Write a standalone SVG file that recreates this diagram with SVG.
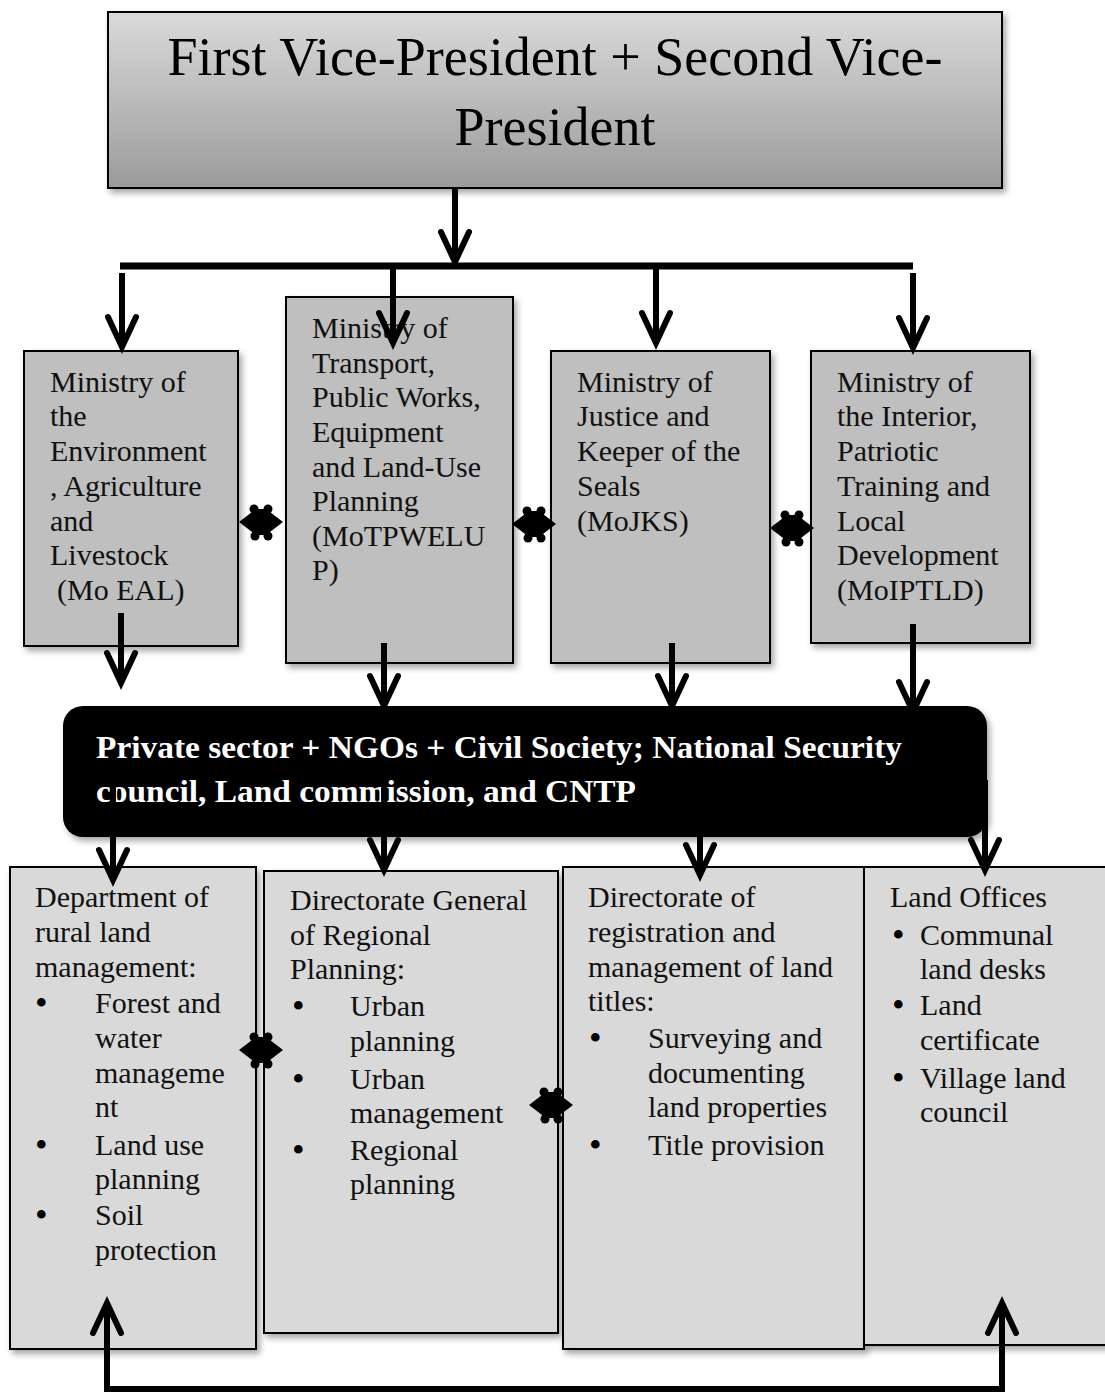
<svg xmlns="http://www.w3.org/2000/svg" width="1105" height="1392" viewBox="0 0 1105 1392">
<defs>
  <linearGradient id="topg" x1="0" y1="0" x2="0" y2="1">
    <stop offset="0" stop-color="#dadada"/>
    <stop offset="1" stop-color="#9b9b9b"/>
  </linearGradient>
  <filter id="sh" x="-10%" y="-10%" width="130%" height="130%">
    <feDropShadow dx="3" dy="4" stdDeviation="3" flood-color="#000" flood-opacity="0.35"/>
  </filter>
  <g id="dbl">
    <polygon points="-22,0 -9,-10 9,-10 22,0 9,10 -9,10" fill="#000"/>
    <rect x="-9" y="-13" width="18" height="26" fill="#000"/>
    <circle cx="-7" cy="-13" r="4.5" fill="#000"/>
    <circle cx="7" cy="-13" r="4.5" fill="#000"/>
    <circle cx="-6" cy="14" r="4.5" fill="#000"/>
    <circle cx="7" cy="14" r="4.5" fill="#000"/>
  </g>
</defs>
<style>
  .t { font-family: "Liberation Serif", "Times New Roman", serif; font-size: 30px; fill: #111; }
  .b { font-family: "Liberation Serif", "Times New Roman", serif; font-size: 36px; fill: #000; }
  .min { fill: #bfbfbf; stroke: #000; stroke-width: 2; }
  .dep { fill: #d9d9d9; stroke: #000; stroke-width: 2; }
  .ln { stroke: #000; stroke-width: 6; fill: none; }
  .hd { stroke: #000; stroke-width: 6; fill: none; stroke-linecap: round; stroke-linejoin: miter; }
</style>
<rect width="1105" height="1392" fill="#fff"/>

<g id="top">
  <rect x="108" y="12" width="894" height="176" fill="url(#topg)" stroke="#000" stroke-width="2" filter="url(#sh)"/>
  <text x="555" y="75" text-anchor="middle" style="font-family:'Liberation Serif','Times New Roman',serif;font-size:54px;fill:#000">First Vice-President + Second Vice-</text>
  <text x="555" y="145" text-anchor="middle" style="font-family:'Liberation Serif','Times New Roman',serif;font-size:54px;fill:#000">President</text>
</g>

<g id="moeal">
  <rect class="min" x="24" y="351" width="214" height="295" filter="url(#sh)"/>
  <text class="t" x="50" y="392">Ministry of</text>
  <text class="t" x="50" y="426">the</text>
  <text class="t" x="50" y="461">Environment</text>
  <text class="t" x="50" y="496">, Agriculture</text>
  <text class="t" x="50" y="531">and</text>
  <text class="t" x="50" y="565">Livestock</text>
  <text class="t" x="57" y="600">(Mo EAL)</text>
</g>

<g id="motpwelup">
  <rect class="min" x="286" y="297" width="227" height="366" filter="url(#sh)"/>
  <text class="t" x="312" y="338">Ministry of</text>
  <text class="t" x="312" y="373">Transport,</text>
  <text class="t" x="312" y="407">Public Works,</text>
  <text class="t" x="312" y="442">Equipment</text>
  <text class="t" x="312" y="477">and Land-Use</text>
  <text class="t" x="312" y="511">Planning</text>
  <text class="t" x="312" y="546">(MoTPWELU</text>
  <text class="t" x="312" y="580">P)</text>
</g>

<g id="mojks">
  <rect class="min" x="551" y="351" width="219" height="312" filter="url(#sh)"/>
  <text class="t" x="577" y="392">Ministry of</text>
  <text class="t" x="577" y="426">Justice and</text>
  <text class="t" x="577" y="461">Keeper of the</text>
  <text class="t" x="577" y="496">Seals</text>
  <text class="t" x="577" y="531">(MoJKS)</text>
</g>

<g id="moiptld">
  <rect class="min" x="811" y="351" width="219" height="292" filter="url(#sh)"/>
  <text class="t" x="837" y="392">Ministry of</text>
  <text class="t" x="837" y="426">the Interior,</text>
  <text class="t" x="837" y="461">Patriotic</text>
  <text class="t" x="837" y="496">Training and</text>
  <text class="t" x="837" y="531">Local</text>
  <text class="t" x="837" y="565">Development</text>
  <text class="t" x="837" y="600">(MoIPTLD)</text>
</g>

<g id="stakeholders">
  <rect x="63" y="706" width="924" height="131" rx="20" ry="20" fill="#000" filter="url(#sh)"/>
  <text x="96" y="758" textLength="806" lengthAdjust="spacingAndGlyphs" style="font-family:'Liberation Serif','Times New Roman',serif;font-size:32px;font-weight:bold;fill:#fff">Private sector + NGOs + Civil Society; National Security</text>
  <text x="96" y="802" textLength="540" lengthAdjust="spacingAndGlyphs" style="font-family:'Liberation Serif','Times New Roman',serif;font-size:32px;font-weight:bold;fill:#fff">council, Land commission, and CNTP</text>
</g>

<g id="dept-rural">
  <rect class="dep" x="10" y="867" width="246" height="482" filter="url(#sh)"/>
  <text class="t" x="35" y="907">Department of</text>
  <text class="t" x="35" y="942">rural land</text>
  <text class="t" x="35" y="977">management:</text>
  <text class="b" x="35" y="1015">•</text>
  <text class="t" x="95" y="1013">Forest and</text>
  <text class="t" x="95" y="1048">water</text>
  <text class="t" x="95" y="1083">manageme</text>
  <text class="t" x="95" y="1117">nt</text>
  <text class="b" x="35" y="1157">•</text>
  <text class="t" x="95" y="1155">Land use</text>
  <text class="t" x="95" y="1189">planning</text>
  <text class="b" x="35" y="1227">•</text>
  <text class="t" x="95" y="1225">Soil</text>
  <text class="t" x="95" y="1260">protection</text>
</g>

<g id="dg-regional">
  <rect class="dep" x="264" y="871" width="294" height="462" filter="url(#sh)"/>
  <text class="t" x="290" y="910">Directorate General</text>
  <text class="t" x="290" y="945">of Regional</text>
  <text class="t" x="290" y="979">Planning:</text>
  <text class="b" x="292" y="1018">•</text>
  <text class="t" x="350" y="1016">Urban</text>
  <text class="t" x="350" y="1051">planning</text>
  <text class="b" x="292" y="1091">•</text>
  <text class="t" x="350" y="1089">Urban</text>
  <text class="t" x="350" y="1123">management</text>
  <text class="b" x="292" y="1162">•</text>
  <text class="t" x="350" y="1160">Regional</text>
  <text class="t" x="350" y="1194">planning</text>
</g>

<g id="dir-registration">
  <rect class="dep" x="563" y="867" width="301" height="482" filter="url(#sh)"/>
  <text class="t" x="588" y="907">Directorate of</text>
  <text class="t" x="588" y="942">registration and</text>
  <text class="t" x="588" y="977">management of land</text>
  <text class="t" x="588" y="1011">titles:</text>
  <text class="b" x="589" y="1050">•</text>
  <text class="t" x="648" y="1048">Surveying and</text>
  <text class="t" x="648" y="1083">documenting</text>
  <text class="t" x="648" y="1117">land properties</text>
  <text class="b" x="589" y="1157">•</text>
  <text class="t" x="648" y="1155">Title provision</text>
</g>

<g id="land-offices">
  <rect class="dep" x="864" y="867" width="260" height="478" filter="url(#sh)"/>
  <text class="t" x="890" y="907">Land Offices</text>
  <text class="b" x="892" y="947">•</text>
  <text class="t" x="920" y="945">Communal</text>
  <text class="t" x="920" y="979">land desks</text>
  <text class="b" x="892" y="1017">•</text>
  <text class="t" x="920" y="1015">Land</text>
  <text class="t" x="920" y="1050">certificate</text>
  <text class="b" x="892" y="1090">•</text>
  <text class="t" x="920" y="1088">Village land</text>
  <text class="t" x="920" y="1122">council</text>
</g>

<g id="connectors">
  <line class="ln" x1="455" y1="188" x2="455" y2="258"/>
  <path class="hd" d="M441,232 L455,262 L469,232"/>
  <line x1="120" y1="266" x2="913" y2="266" stroke="#000" stroke-width="7"/>
  <line class="ln" x1="122" y1="273" x2="122" y2="343"/>
  <path class="hd" d="M108,317 L122,347 L136,317"/>
  <line class="ln" x1="393" y1="266" x2="393" y2="339"/>
  <path class="hd" d="M379,313 L393,343 L407,313"/>
  <line class="ln" x1="656" y1="266" x2="656" y2="339"/>
  <path class="hd" d="M642,313 L656,343 L670,313"/>
  <line class="ln" x1="913" y1="273" x2="913" y2="344"/>
  <path class="hd" d="M899,318 L913,348 L927,318"/>
  <line class="ln" x1="121" y1="613" x2="121" y2="679"/>
  <path class="hd" d="M107,653 L121,683 L135,653"/>
  <line class="ln" x1="384" y1="643" x2="384" y2="702"/>
  <path class="hd" d="M370,676 L384,706 L398,676"/>
  <line class="ln" x1="672" y1="643" x2="672" y2="702"/>
  <path class="hd" d="M658,676 L672,706 L686,676"/>
  <line class="ln" x1="913" y1="624" x2="913" y2="708"/>
  <path class="hd" d="M899,682 L913,712 L927,682"/>
  <line class="ln" x1="113" y1="783" x2="113" y2="876"/>
  <path class="hd" d="M99,850 L113,880 L127,850"/>
  <line class="ln" x1="384" y1="783" x2="384" y2="866"/>
  <path class="hd" d="M370,840 L384,870 L398,840"/>
  <line class="ln" x1="700" y1="837" x2="700" y2="871"/>
  <path class="hd" d="M686,845 L700,875 L714,845"/>
  <line class="ln" x1="985" y1="780" x2="985" y2="866"/>
  <path class="hd" d="M971,840 L985,870 L999,840"/>
  <path class="ln" d="M107,1308 L107,1389 L1002,1389 L1002,1308"/>
  <path class="hd" d="M93,1333 L107,1303 L121,1333"/>
  <path class="hd" d="M988,1333 L1002,1303 L1016,1333"/>
  <use href="#dbl" x="261" y="522"/>
  <use href="#dbl" x="534" y="524"/>
  <use href="#dbl" x="792" y="528"/>
  <use href="#dbl" x="261" y="1050"/>
  <use href="#dbl" x="551" y="1105"/>
</g>
</svg>
